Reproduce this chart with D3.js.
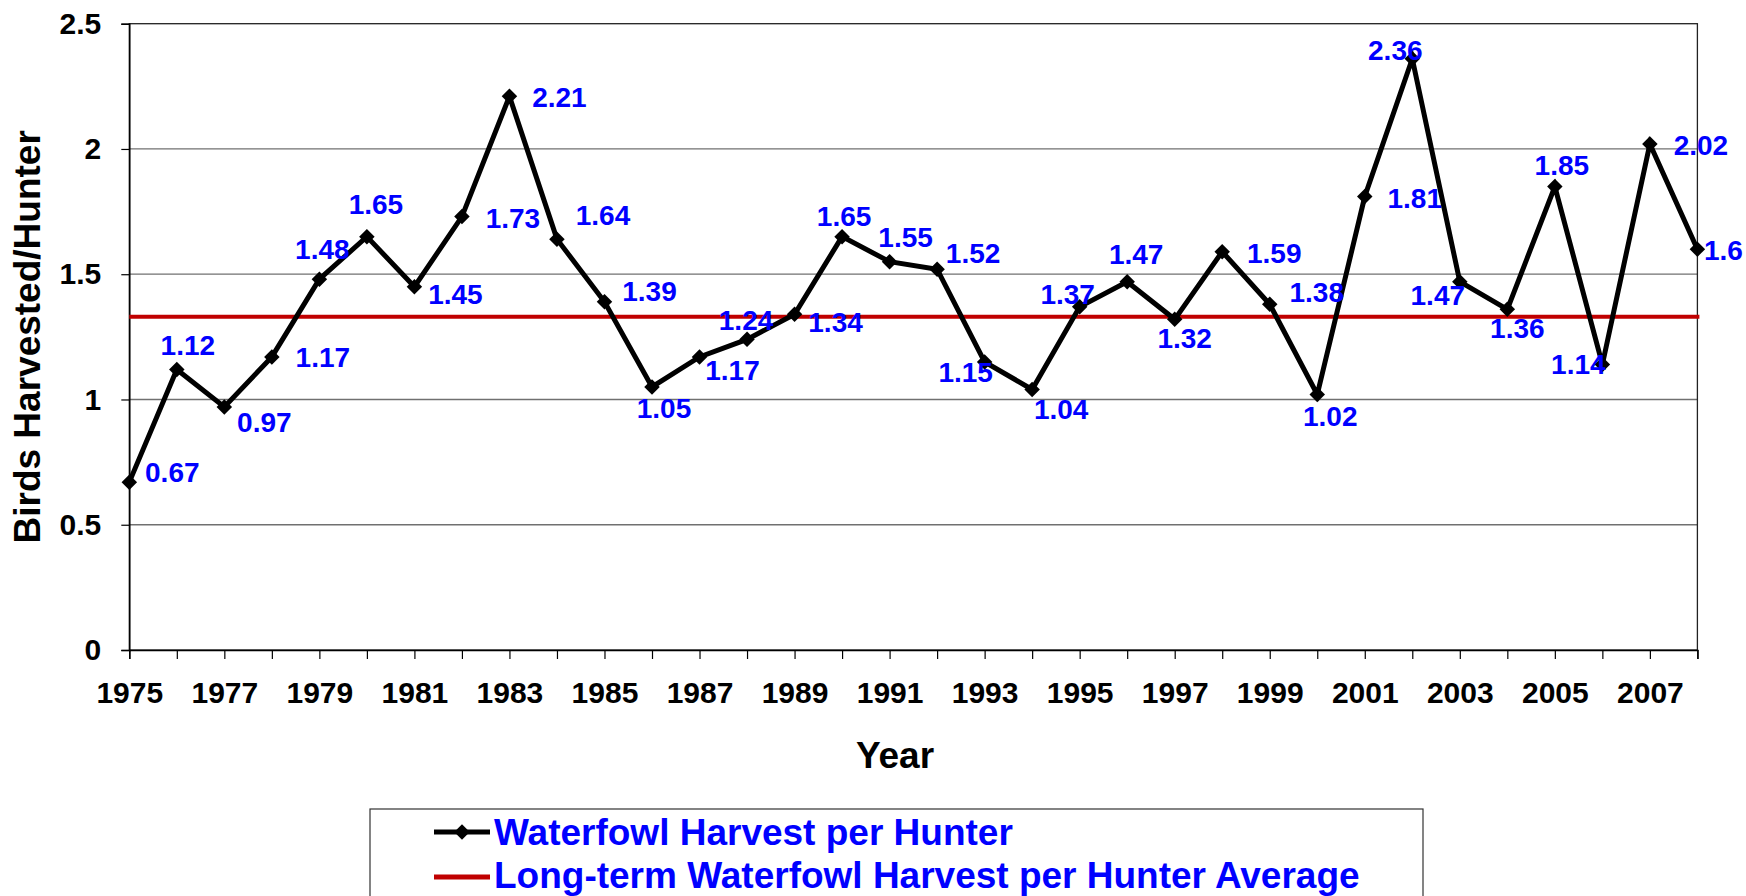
<!DOCTYPE html>
<html>
<head>
<meta charset="utf-8">
<script src="https://cdn.jsdelivr.net/npm/d3@7"></script>
<style>
  body { margin: 0; background: #fff; }
  svg text { font-family: "Liberation Sans", Arial, sans-serif; font-weight: bold; }
</style>
</head>
<body>
<div id="chart"></div>
<script>
// data
const years = d3.range(1975, 2009);
const harvest = [0.67, 1.12, 0.97, 1.17, 1.48, 1.65, 1.45, 1.73, 2.21, 1.64,
                 1.39, 1.05, 1.17, 1.24, 1.34, 1.65, 1.55, 1.52, 1.15, 1.04,
                 1.37, 1.47, 1.32, 1.59, 1.38, 1.02, 1.81, 2.36, 1.47, 1.36,
                 1.85, 1.14, 2.02, 1.6];
const longTermAvg = 1.33;
const yTicks = [0, 0.5, 1, 1.5, 2, 2.5];
const legendLabels = ["Waterfowl Harvest per Hunter", "Long-term Waterfowl Harvest per Hunter Average"];

// where each value label sits relative to its point (center offset, px)
const labelNudge = [[43,-10],[11,-24],[40,15],[51,0],[3,-30],[9,-33],[41,7],[51,1],[50,1],[46,-24],
                    [45,-11],[12,21],[33,13],[-1,-19],[41,8],[2,-21],[16,-25],[36,-16],[-19,10],[29,19],
                    [-12,-13],[9,-28],[10,19],[52,1],[47,-12],[13,21],[50,1],[-17,-9],[-22,13],[10,19],
                    [7,-22],[-24,0],[51,1],[26,1]];

const W = 1746, H = 896;
const plot = {left: 129.3, right: 1697.4, top: 23.7, bottom: 650};

const svg = d3.select("#chart").append("svg")
    .attr("width", W).attr("height", H);

const x = d3.scaleLinear().domain([1975, 2008]).range([plot.left, plot.right]);
const y = d3.scaleLinear().domain([0, 2.5]).range([plot.bottom, plot.top]);

// gridlines
svg.append("g").selectAll("line")
    .data(yTicks.slice(1, -1))
    .enter().append("line")
    .attr("x1", plot.left).attr("x2", plot.right)
    .attr("y1", d => y(d)).attr("y2", d => y(d))
    .attr("stroke", "#707070").attr("stroke-width", 1.3);

// frame
svg.append("rect")
    .attr("x", plot.left).attr("y", plot.top)
    .attr("width", plot.right - plot.left).attr("height", plot.bottom - plot.top)
    .attr("fill", "none").attr("stroke", "#222").attr("stroke-width", 1.3);

// x axis
const xAxis = svg.append("g")
    .attr("transform", "translate(0," + plot.bottom + ")")
    .call(d3.axisBottom(x).tickValues(years).tickSize(9)
        .tickFormat(d => (d % 2 === 1 ? String(d) : "")));
xAxis.select(".domain").attr("stroke", "#000").attr("stroke-width", 1.5);
xAxis.selectAll(".tick line").attr("stroke", "#000").attr("stroke-width", 1.2);
xAxis.selectAll(".tick text")
    .attr("y", 53).attr("dy", null)
    .style("font-size", "30px").attr("fill", "#000");

// y axis
const yAxis = svg.append("g")
    .attr("transform", "translate(" + plot.left + ",0)")
    .call(d3.axisLeft(y).tickValues(yTicks).tickSize(8).tickPadding(20)
        .tickFormat(d => String(d)));
yAxis.select(".domain").attr("stroke", "#000").attr("stroke-width", 1.5);
yAxis.selectAll(".tick line").attr("stroke", "#000").attr("stroke-width", 1.2);
yAxis.selectAll(".tick text").style("font-size", "30px").attr("fill", "#000");

// axis titles
svg.append("text")
    .attr("transform", "translate(40," + ((plot.top + plot.bottom) / 2) + ") rotate(-90)")
    .attr("text-anchor", "middle")
    .style("font-size", "37px")
    .text("Birds Harvested/Hunter");

svg.append("text")
    .attr("x", 895).attr("y", 768)
    .attr("text-anchor", "middle")
    .style("font-size", "37px")
    .text("Year");

// long-term average
svg.append("line")
    .attr("x1", plot.left).attr("x2", plot.right + 2)
    .attr("y1", y(longTermAvg)).attr("y2", y(longTermAvg))
    .attr("stroke", "#C00000").attr("stroke-width", 4);

// harvest line
const pts = years.map((yr, i) => ({year: yr, value: harvest[i], nudge: labelNudge[i]}));

svg.append("path")
    .datum(pts)
    .attr("fill", "none")
    .attr("stroke", "#000")
    .attr("stroke-width", 5)
    .attr("stroke-linejoin", "miter")
    .attr("d", d3.line().x(d => x(d.year)).y(d => y(d.value)));

const diamond = d3.symbol().type(d3.symbolSquare).size(120);

svg.append("g").selectAll("path")
    .data(pts)
    .enter().append("path")
    .attr("d", diamond)
    .attr("transform", d => "translate(" + x(d.year) + "," + y(d.value) + ") rotate(45)")
    .attr("fill", "#000");

svg.append("g").selectAll("text")
    .data(pts)
    .enter().append("text")
    .attr("x", d => x(d.year) + d.nudge[0])
    .attr("y", d => y(d.value) + d.nudge[1])
    .attr("dy", "0.36em")
    .attr("text-anchor", "middle")
    .attr("fill", "#0000FF")
    .style("font-size", "28px")
    .text(d => String(d.value));

// legend
const legend = svg.append("g");
legend.append("rect")
    .attr("x", 370).attr("y", 809)
    .attr("width", 1053).attr("height", 120)
    .attr("fill", "#fff").attr("stroke", "#333").attr("stroke-width", 1.2);

legend.append("line")
    .attr("x1", 434).attr("x2", 490).attr("y1", 832).attr("y2", 832)
    .attr("stroke", "#000").attr("stroke-width", 5);
legend.append("path")
    .attr("d", diamond)
    .attr("transform", "translate(462,832) rotate(45)")
    .attr("fill", "#000");
legend.append("line")
    .attr("x1", 434).attr("x2", 490).attr("y1", 877).attr("y2", 877)
    .attr("stroke", "#C00000").attr("stroke-width", 5);

legend.selectAll("text.lg")
    .data(legendLabels)
    .enter().append("text")
    .attr("class", "lg")
    .attr("x", 494)
    .attr("y", (d, i) => 845 + i * 43)
    .attr("fill", "#0000FF")
    .style("font-size", "37px")
    .text(d => d);
</script>
</body>
</html>
